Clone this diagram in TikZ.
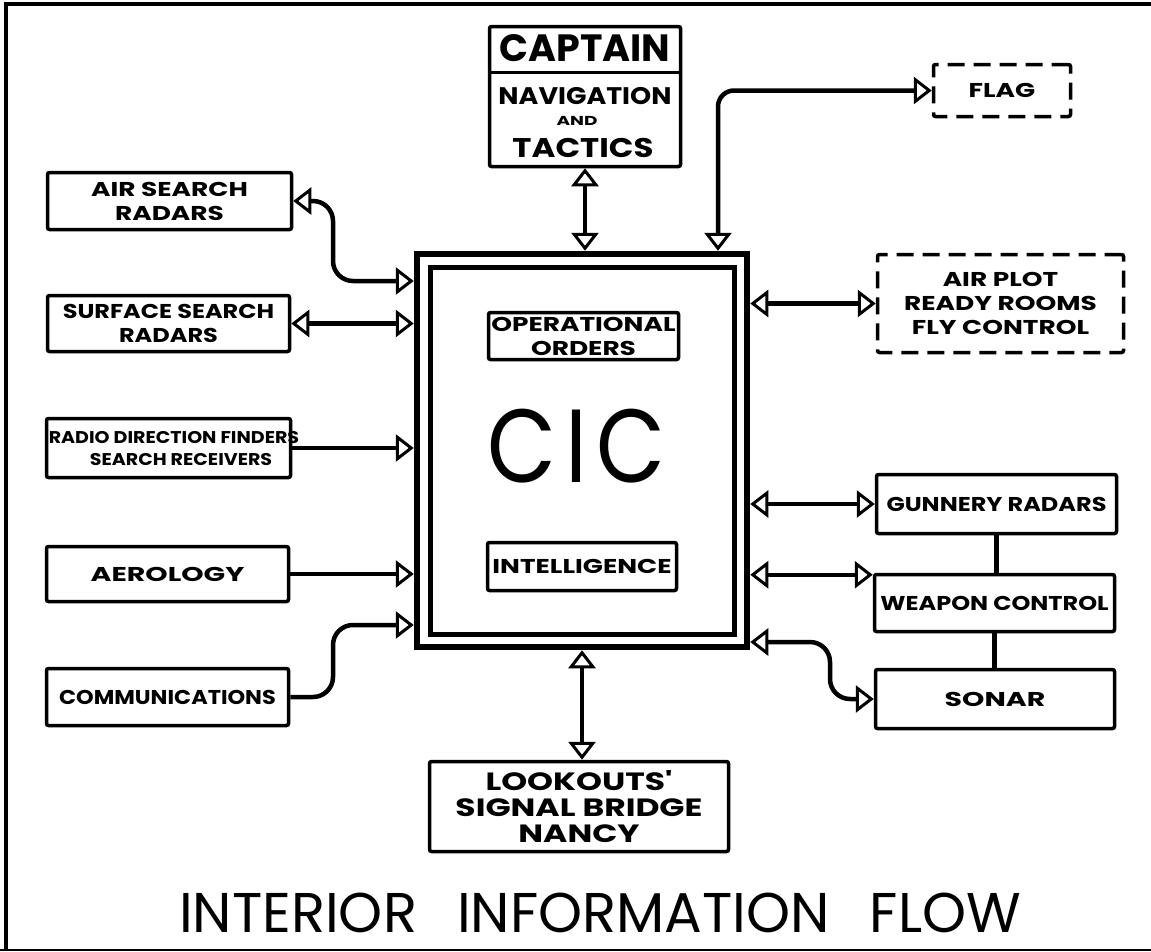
\documentclass[tikz,border=0pt]{standalone}
\usepackage{fontspec}
\setmainfont{Poppins}
\newfontfamily\lblA{Poppins}[FakeStretch=1.32]
\newfontfamily\lblB{Poppins}[FakeStretch=1.2]
\newfontfamily\lblC{Poppins}[FakeStretch=1.12]
\newfontfamily\lblD{Poppins}[FakeStretch=1.42]
\newfontfamily\cicfont{Poppins}[FakeStretch=0.86]
\usetikzlibrary{arrows.meta,calc}
\begin{document}
\begin{tikzpicture}[x=1pt,y=-1pt,
  box/.style={draw, line width=3.5pt, rounded corners=2pt, align=center, inner sep=0pt,
    font=\lblA\fontsize{20}{24}\selectfont\bfseries},
  dbox/.style={box, dash pattern=on 17pt off 9pt},
  conn/.style={line width=4.5pt},
  tp/.tip={Triangle[length=18pt,width=27pt,fill=white,line width=3pt]},
  lbl/.style={inner sep=0pt, align=center}
]
\useasboundingbox (0,0) rectangle (1151,951);
% frame
\draw[line width=4pt] (6,951) -- (6,4) -- (1151,4);
\draw[line width=2pt] (0,950) -- (1151,950);

% CIC
\node[draw, line width=6.5pt, minimum width=330pt, minimum height=393pt, inner sep=0pt] (cicout) at (582,450.5) {};
\node[draw, line width=5pt, minimum width=304pt, minimum height=367pt, inner sep=0pt] (cicin) at (582.5,451) {};
\node[box, minimum width=190pt, minimum height=47pt] (ops) at (583.5,336) {OPERATIONAL\\ORDERS};
\node[box, minimum width=189pt, minimum height=48pt] (intel) at (582,566.5) {INTELLIGENCE};
\node[lbl, font=\cicfont\fontsize{104}{104}\selectfont] (cictext) at (577,446) {C\hspace{9pt}I\hspace{9pt}C};

% captain
\node[box, minimum width=191pt, minimum height=140pt] (capt) at (585,96.5) {};
\coordinate (cdiv) at (0,72);
\draw[line width=3pt] (capt.west |- cdiv) -- (capt.east |- cdiv);
\node[lbl, font=\fontsize{38}{38}\selectfont\bfseries] (capttxt) at (585,48) {CAPTAIN};
\node[lbl, font=\lblC\fontsize{24}{24}\selectfont\bfseries] (navtxt) at (585,96) {NAVIGATION};
\node[lbl, font=\lblD\fontsize{13}{13}\selectfont\bfseries] (andtxt) at (577,121) {AND};
\node[lbl, font=\lblB\fontsize{27}{27}\selectfont\bfseries] (tactxt) at (583,148) {TACTICS};

% left boxes
\node[box, minimum width=244pt, minimum height=57pt] (air) at (169.5,201) {AIR SEARCH\\RADARS};
\node[box, minimum width=242pt, minimum height=56pt, font=\lblB\fontsize{20}{24}\selectfont\bfseries] (surf) at (168.5,323.5) {SURFACE SEARCH\\RADARS};
\node[box, minimum width=244pt, minimum height=59pt] (rdf) at (168.5,448) {};
\node[lbl, font=\lblC\fontsize{17}{21}\selectfont\bfseries, anchor=base] (rdf1) at (174,443) {RADIO DIRECTION FINDERS};
\node[lbl, font=\lblC\fontsize{17}{21}\selectfont\bfseries, anchor=base] (rdf2) at (181,465) {SEARCH RECEIVERS};
\node[box, minimum width=242pt, minimum height=55pt, font=\lblD\fontsize{20}{24}\selectfont\bfseries] (aero) at (167.5,574) {AEROLOGY};
\node[box, minimum width=242pt, minimum height=57pt, font=\lblC\fontsize{20}{24}\selectfont\bfseries] (comm) at (167.5,697) {COMMUNICATIONS};

% right boxes
\node[dbox, minimum width=137pt, minimum height=52pt] (flag) at (1002,90.5) {FLAG};
\node[dbox, minimum width=246pt, minimum height=98pt] (airplot) at (1000.5,303.5) {AIR PLOT\\READY ROOMS\\FLY CONTROL};
\node[box, minimum width=240pt, minimum height=59pt, font=\lblB\fontsize{20}{24}\selectfont\bfseries] (gun) at (996.5,504) {GUNNERY RADARS};
\node[box, minimum width=240pt, minimum height=57pt, font=\lblB\fontsize{20}{24}\selectfont\bfseries] (weap) at (994.5,603) {WEAPON CONTROL};
\node[box, minimum width=239pt, minimum height=59pt, font=\lblD\fontsize{20}{24}\selectfont\bfseries] (sonar) at (995,699) {SONAR};

% bottom
\node[box, minimum width=299pt, minimum height=90pt, font=\lblA\fontsize{25}{26}\selectfont\bfseries] (look) at (579,806.5) {LOOKOUTS'\\SIGNAL BRIDGE\\NANCY};
\node[lbl, font=\fontsize{56}{56}\selectfont] (title) at (600,913) {INTERIOR\hspace{40pt}INFORMATION\hspace{40pt}FLOW};

% connectors
\draw[conn, {tp}-{tp}] (capt.south) -- (capt.south |- cicout.north);
\coordinate (fx) at (718,0);
\draw[conn, {tp}-{tp}, rounded corners=16pt] (fx |- cicout.north) |- (flag.west);
\coordinate (a1) at (333,281);
\draw[conn, {tp}-{tp}, rounded corners=20pt] (air.east) -| (a1) -- (a1 -| cicout.west);
\draw[conn, {tp}-{tp}] (surf.east) -- (surf.east -| cicout.west);
\draw[conn, line width=3.5pt, -{tp}] (rdf.east) -- (rdf.east -| cicout.west);
\draw[conn, -{tp}] (aero.east) -- (aero.east -| cicout.west);
\coordinate (c1) at (333,625);
\draw[conn, -{tp}, rounded corners=20pt] (comm.east) -| (c1) -- (c1 -| cicout.west);
\draw[conn, {tp}-{tp}] (airplot.west -| cicout.east) -- (airplot.west);
\draw[conn, {tp}-{tp}] (gun.west -| cicout.east) -- (gun.west);
\coordinate (wp) at ($(weap.north west)+(0,2)$);
\draw[conn, {tp}-{tp}] (wp -| cicout.east) -- (wp);
\coordinate (s1) at (830,642);
\draw[conn, {tp}-{tp}, rounded corners=20pt] (s1 -| cicout.east) -| (sonar.west -| s1) -- (sonar.west);
\draw[conn] (gun.south) -- (gun.south |- weap.north);
\draw[conn] (weap.south) -- (weap.south |- sonar.north);
\draw[conn, {tp}-{tp}] (cicout.south) -- (cicout.south |- look.north);
\end{tikzpicture}
\end{document}
